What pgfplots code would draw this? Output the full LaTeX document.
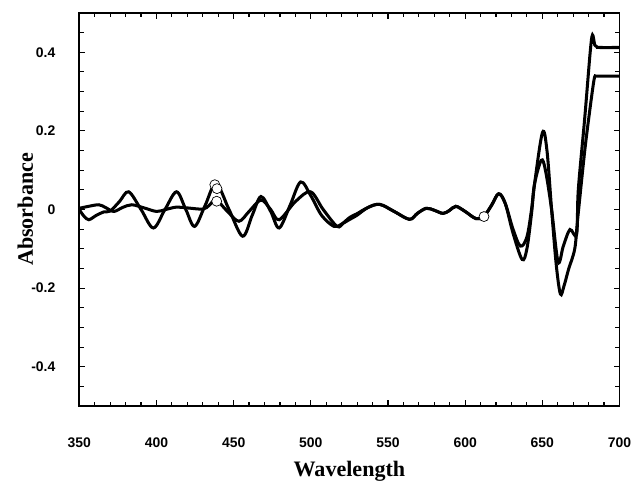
\documentclass[border=0pt]{standalone}
\usepackage{fontspec}
\setmainfont{Liberation Serif}
\setsansfont{Liberation Sans}
\usepackage{pgfplots}
\pgfplotsset{compat=1.18}

% difference spectra, two runs
\pgfplotstableread{
wl     a
350    0.000
353   -0.017
356.2 -0.026
361   -0.015
366   -0.006
370   -0.004
376    0.020
382    0.045
390    0.000
398   -0.047
405.5  0.000
413    0.045
419    0.000
424.7 -0.043
431.5  0.010
438.6  0.066
447    0.000
455.8 -0.068
462   -0.015
467.7  0.033
474   -0.005
479.5 -0.047
486.5  0.010
493.4  0.070
500    0.035
507   -0.015
515   -0.043
520   -0.037
525.3 -0.020
529.8 -0.011
537    0.005
544.6  0.013
554   -0.005
563.9 -0.025
569   -0.010
574.8  0.003
580   -0.002
585.7 -0.010
590   -0.002
594    0.008
600   -0.005
606.9 -0.023
612   -0.018
617    0.010
621.7  0.040
626    0.015
631   -0.060
636.9 -0.127
640   -0.100
643   -0.010
645    0.066
650.1  0.196
653    0.150
656    0.000
659   -0.140
661.7 -0.215
664   -0.195
667   -0.152
671   -0.100
673   -0.020
677.5  0.150
681    0.260
683.5  0.330
684.5  0.339
686    0.339
700    0.339
}\runA

\pgfplotstableread{
wl     a
350    0.003
356    0.008
362.7  0.012
367    0.005
372.3 -0.005
378    0.005
384    0.012
392    0.004
400.1 -0.005
406    0.000
412.9  0.006
420    0.004
430.1  0.001
434    0.010
438.6  0.024
446   -0.005
453.4 -0.030
460   -0.005
467.7  0.024
474    0.000
479.5 -0.026
490    0.020
499.8  0.045
508    0.000
517   -0.043
521   -0.035
525.3 -0.025
529.8 -0.015
537    0.005
544.6  0.013
554   -0.005
563.9 -0.025
569   -0.010
574.8  0.003
580   -0.002
585.7 -0.010
590   -0.002
594    0.008
600   -0.005
606.9 -0.023
612   -0.018
617    0.010
621.7  0.040
626    0.015
631   -0.050
635.8 -0.093
640   -0.070
643    0.000
645    0.066
649.3  0.125
652    0.100
656    0.000
660.2 -0.133
663.6 -0.093
667.9 -0.051
672.2 -0.064
673.3  0.050
677.5  0.234
681    0.400
682.5  0.444
684    0.418
685.5  0.413
687    0.412
700    0.412
}\runB

\begin{document}
\begin{tikzpicture}
\begin{axis}[
    scale only axis,
    width=16.35cm, height=11.9cm,
    xmin=350, xmax=700, ymin=-0.5, ymax=0.5,
    xtick={350,400,...,700},
    xticklabels={350,400,450,500,550,600,650,700},
    minor xtick={360,370,...,690},
    ytick={-0.4,-0.2,0,0.2,0.4},
    yticklabels={-0.4,-0.2,0,0.2,0.4},
    minor ytick={-0.45,-0.35,-0.3,-0.25,-0.15,-0.1,-0.05,0.05,0.1,0.15,0.25,0.3,0.35,0.45},
    tick align=inside,
    major tick length=0.17cm, minor tick length=0.13cm,
    every tick/.style={black, line width=1pt},
    axis line style={line width=1.4pt},
    ticklabel style={font=\sffamily\bfseries\fontsize{12}{14}\selectfont},
    xticklabel style={yshift=-0.85cm},
    yticklabel style={xshift=-0.6cm},
    xlabel={Wavelength},
    ylabel={Absorbance},
    label style={font=\bfseries\fontsize{19}{21}\selectfont},
    xlabel style={at={(rel axis cs:0.5,-0.166)}, anchor=center},
    ylabel style={at={(rel axis cs:-0.100,0.5)}, anchor=center},
]
\addplot[black, line width=2.6pt, smooth, tension=0.55] table[x=wl, y=a] {\runA};
\addplot[black, line width=2.6pt, smooth, tension=0.55] table[x=wl, y=a] {\runB};
\addplot[only marks, mark=*, mark size=4.3pt, mark options={fill=white, draw=black, line width=0.6pt}] coordinates {
(437.8, 0.063) (439.2, 0.053) (439.0, 0.021) (612.2, -0.018)
};
\end{axis}
% white margin as in the scan
\path ([xshift=-2.4cm, yshift=0.39cm]current axis.north west)
      ([xshift=0.3cm]current axis.south east);
\end{tikzpicture}
\end{document}
